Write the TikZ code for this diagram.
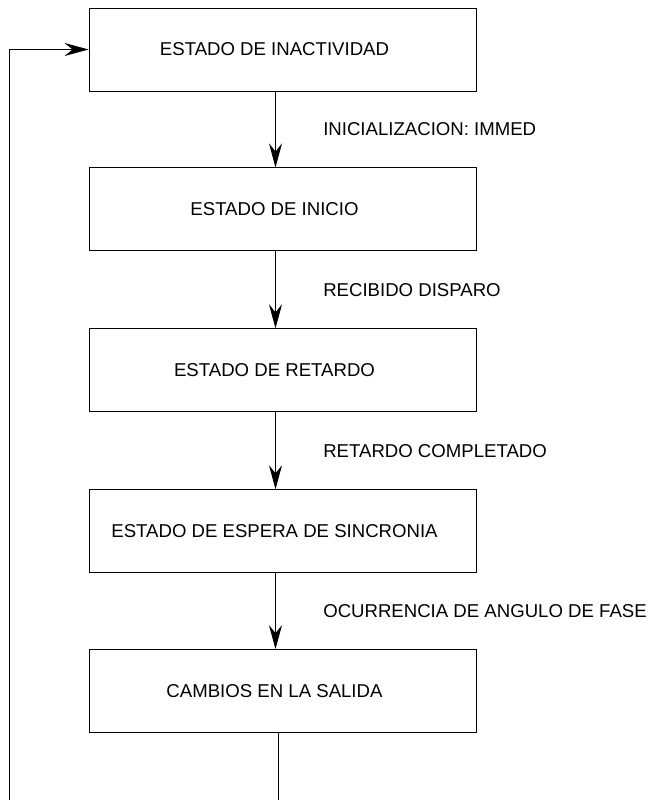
\documentclass[tikz,border=0pt]{standalone}
\usepackage{fontspec}
\setmainfont{Liberation Sans}
\usetikzlibrary{positioning, arrows.meta}

\begin{document}
\begin{tikzpicture}[x=1pt, y=-1pt, node distance=76pt,
        estado/.style={draw, line width=0.9pt, minimum width=387pt, minimum height=83pt,
            font=\fontsize{18.6}{22}\selectfont, execute at end node=\hspace*{16pt}},
        evento/.style={anchor=west, xshift=44pt, font=\fontsize{18.6}{22}\selectfont},
        flecha/.style={line width=0.9pt, -{Stealth[length=24pt, width=13pt, inset=8pt]}}]
        \useasboundingbox (0,0) rectangle (648,800);
        \node (inact) [estado] at (282.5, 49.5) {ESTADO DE INACTIVIDAD};
        \node (inicio) [estado, below=of inact] {ESTADO DE INICIO};
        \node (retardo) [estado, below=77pt of inicio] {ESTADO DE RETARDO};
        \node (espera) [estado, below=77pt of retardo] {ESTADO DE ESPERA DE SINCRONIA};
        \node (salida) [estado, below=of espera] {CAMBIOS EN LA SALIDA};
        \coordinate (esquina) at (9, 802);
        \draw [flecha] ([xshift=-7pt]inact.south) -- node (ev1) [evento] {INICIALIZACION: IMMED} ([xshift=-7pt]inicio.north);
        \draw [flecha] ([xshift=-7pt]inicio.south) -- node (ev2) [evento] {RECIBIDO DISPARO} ([xshift=-7pt]retardo.north);
        \draw [flecha] ([xshift=-7pt]retardo.south) -- node (ev3) [evento] {RETARDO COMPLETADO} ([xshift=-7pt]espera.north);
        \draw [flecha] ([xshift=-7pt]espera.south) -- node (ev4) [evento] {OCURRENCIA DE ANGULO DE FASE} ([xshift=-7pt]salida.north);
        \draw [flecha] ([xshift=-4.5pt]salida.south) |- (esquina) |- (inact.west);
    \end{tikzpicture}
\end{document}
